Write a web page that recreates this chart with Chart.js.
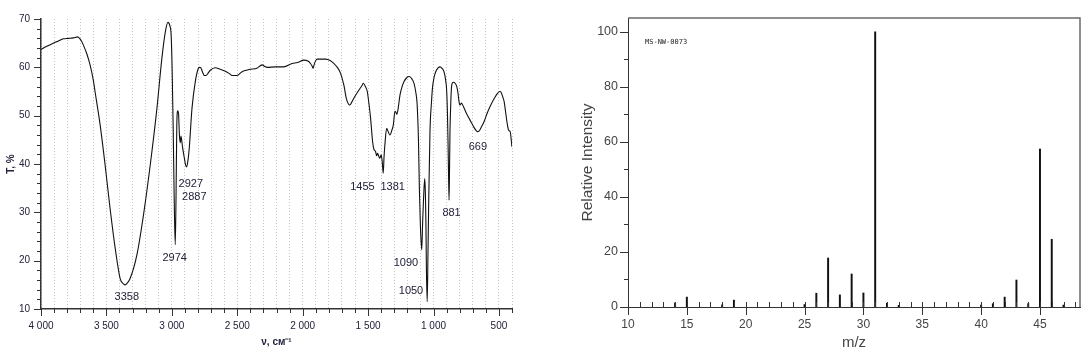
<!DOCTYPE html>
<html><head><meta charset="utf-8">
<script src="https://cdn.jsdelivr.net/npm/chart.js@4.4.0/dist/chart.umd.min.js"></script>
<style>
html,body{margin:0;padding:0;background:#fff;overflow:hidden}
#wrap{position:relative;width:1090px;height:355px;background:#fff}
#ir{position:absolute;left:0;top:0}
#ms{position:absolute;left:545px;top:0}
</style></head><body>
<div id="wrap"><canvas id="ir" width="545" height="355"></canvas><canvas id="ms" width="545" height="355"></canvas></div>
<script>
// ---------- IR spectrum data ----------
const irWavenumbers = [4000,3960,3906,3870,3829,3790,3753,3720,3705,3690,3676,3650,3625,3600,3587,3548,3510,3472,3433,3395,3370,3358,3340,3319,3267,3217,3165,3114,3076,3050,3030,3015,3005,2998,2990,2982,2974,2968,2962,2955,2949,2942,2936,2930,2924,2918,2903,2895,2887,2878,2867,2846,2821,2800,2790,2778,2765,2750,2739,2720,2706,2668,2630,2591,2560,2540,2502,2463,2430,2400,2350,2310,2285,2272,2208,2145,2080,2040,1991,1960,1940,1927,1920,1912,1900,1889,1825,1790,1762,1735,1711,1685,1665,1650,1639,1625,1609,1570,1545,1537,1520,1506,1495,1481,1465,1455,1443,1435,1428,1418,1410,1400,1392,1384,1378,1370,1358,1348,1333,1318,1307,1295,1289,1280,1270,1256,1240,1226,1200,1187,1170,1149,1135,1125,1115,1108,1100,1090,1083,1077,1067,1062,1058,1054,1048,1042,1037,1027,1015,1008,995,983,965,950,935,920,908,899,893,889,885,881,877,874,868,863,855,848,835,822,812,805,797,787,770,754,735,715,695,677,665,652,635,613,590,562,535,511,495,485,472,460,450,439,426,414,405,401];
const irTransmittance = [63.7,64.3,65.0,65.4,65.9,66.0,66.1,66.3,66.0,65.4,64.6,62.8,60.5,57.3,55.0,48.1,39.8,30.8,22.6,16.3,15.2,15.0,15.4,16.3,21.2,29.4,39.8,51.5,61.9,67.3,69.3,68.6,66.5,60.0,48.0,33.0,23.3,33.0,48.1,51.0,50.5,46.0,44.4,45.8,44.8,43.5,41.0,39.8,39.4,40.5,43.2,51.5,57.0,59.6,60.0,59.9,59.0,58.3,58.3,58.9,59.4,59.9,59.6,59.2,58.7,58.3,58.3,59.1,59.4,59.6,59.8,60.5,60.1,60.0,60.1,60.1,60.8,61.0,61.5,61.3,60.8,60.2,59.8,60.6,61.4,61.7,61.7,61.4,60.8,60.0,58.8,56.3,53.4,52.4,52.2,52.8,53.6,55.3,56.3,56.7,56.0,55.0,52.8,49.5,44.5,43.0,42.6,41.7,42.2,41.6,41.2,41.9,40.5,38.1,41.5,44.5,47.4,46.8,46.0,47.0,48.1,50.9,50.8,50.3,51.5,54.3,56.0,57.0,58.0,58.1,57.8,56.7,54.8,52.3,45.0,35.0,27.0,22.2,28.0,32.2,37.0,34.0,28.0,18.0,11.5,22.0,31.5,46.7,53.0,55.7,58.0,59.1,59.9,60.1,59.8,59.1,57.5,55.0,50.0,44.6,38.0,32.5,40.0,46.7,52.5,55.7,56.8,56.9,56.7,56.0,54.5,52.9,52.2,52.6,51.8,50.8,49.8,48.8,47.8,47.0,46.7,46.8,47.6,48.8,50.5,52.2,53.6,54.6,55.0,54.9,54.0,52.9,51.0,48.8,47.0,46.7,44.8,43.6];
const irXTickValues = [4000,3500,3000,2500,2000,1500,1000,500];
const irXTickLabels = ['4 000','3 500','3 000','2 500','2 000','1 500','1 000','500'];
const irYTickValues = [10,20,30,40,50,60,70];
const irYTickLabels = ['10','20','30','40','50','60','70'];
const irPeakLabels = ['3358','2974','2927','2887','1455','1381','1090','1050','881','669'];
const irPeakLabelWn = [3344,2978,2855,2828,1543,1312,1211,1172,862,661];
const irPeakLabelT = [12.5,20.6,35.9,33.2,35.2,35.2,19.5,13.8,29.9,43.6];

// ---------- Mass spectrum data ----------
const msMz = [14,15,18,19,25,26,27,28,29,30,31,32,33,40,41,42,43,44,45,46,47];
const msIntensity = [1.5,3.6,0.8,2.5,0.9,5.0,17.8,4.4,12.0,5.1,100,1.4,0.6,0.7,1.2,3.6,9.8,1.2,57.4,24.6,0.7];
const msXTickValues = [10,15,20,25,30,35,40,45];
const msXTickLabels = ['10','15','20','25','30','35','40','45'];
const msYTickValues = [0,20,40,60,80,100];
const msYTickLabels = ['0','20','40','60','80','100'];
const msTitle = 'MS-NW-0073';

const IRF = 'Liberation Sans, Arial, sans-serif';
const IRC = '#22223a';
const near = (arr, v) => arr.findIndex(a => Math.abs(a - v) < 1e-6);

const irDecor = {
  id: 'irDecor',
  afterDraw(chart) {
    const ctx = chart.ctx, xs = chart.scales.x, ys = chart.scales.y, a = chart.chartArea;
    ctx.save();
    ctx.strokeStyle = '#333'; ctx.lineWidth = 1;
    xs.ticks.forEach(t => {
      const px = Math.round(xs.getPixelForValue(t.value)) + 0.5;
      const len = (near(irXTickValues, t.value) >= 0) ? 7 : 4;
      ctx.beginPath(); ctx.moveTo(px, a.bottom); ctx.lineTo(px, a.bottom + len); ctx.stroke();
    });
    ys.ticks.forEach(t => {
      const py = Math.round(ys.getPixelForValue(t.value)) + 0.5;
      const len = (near(irYTickValues, t.value) >= 0) ? 7 : 4;
      ctx.beginPath(); ctx.moveTo(a.left, py); ctx.lineTo(a.left - len, py); ctx.stroke();
    });
    ctx.fillStyle = IRC; ctx.font = '11px ' + IRF;
    ctx.textAlign = 'center'; ctx.textBaseline = 'middle';
    irPeakLabels.forEach((s, i) => {
      ctx.fillText(s, xs.getPixelForValue(irPeakLabelWn[i]), ys.getPixelForValue(irPeakLabelT[i]));
    });
    ctx.restore();
  }
};

new Chart(document.getElementById('ir'), {
  type: 'line',
  data: { datasets: [{
    data: irWavenumbers.map((w, i) => ({x: w, y: irTransmittance[i]})),
    borderColor: '#111', borderWidth: 1.1, pointRadius: 0, fill: false,
    cubicInterpolationMode: 'monotone'
  }]},
  options: {
    responsive: false, animation: false, devicePixelRatio: 1,
    layout: { padding: { left: 0, right: 33, top: 19, bottom: 0 } },
    plugins: { legend: { display: false }, tooltip: { enabled: false } },
    scales: {
      x: {
        type: 'linear', reverse: true, min: 400, max: 4000,
        ticks: { stepSize: 100, autoSkip: false, includeBounds: false, maxRotation: 0, padding: 11,
          font: { family: IRF, size: 10 }, color: IRC,
          callback: v => { const k = near(irXTickValues, v); return k >= 0 ? irXTickLabels[k] : ''; } },
        grid: { display: true, drawTicks: false, color: '#c4c4c4', lineWidth: 1 },
        border: { display: true, color: '#333', width: 1.5, dash: [1, 2] },
        title: { display: true, text: 'ν, см⁻¹', color: IRC,
          font: { family: IRF, size: 10, weight: 'bold' }, padding: { top: 0, bottom: 7 } },
        afterFit(s) { s.height = 46; }
      },
      y: {
        type: 'linear', min: 10, max: 70,
        ticks: { stepSize: 2, autoSkip: false, includeBounds: false, padding: 11,
          font: { family: IRF, size: 10 }, color: IRC,
          callback: v => { const k = near(irYTickValues, v); return k >= 0 ? irYTickLabels[k] : ''; } },
        grid: { display: false, drawTicks: false },
        border: { display: true, color: '#333', width: 1.5 },
        title: { display: true, text: 'T, %', color: IRC,
          font: { family: IRF, size: 10, weight: 'bold' }, padding: { top: 5, bottom: 0 } },
        afterFit(s) { s.width = 41; }
      }
    }
  },
  plugins: [irDecor]
});

const MSF = 'Liberation Sans, Arial, sans-serif';
const MSC = '#444';
const msDecor = {
  id: 'msDecor',
  afterDraw(chart) {
    const ctx = chart.ctx, xs = chart.scales.x, ys = chart.scales.y, a = chart.chartArea;
    ctx.save();
    ctx.strokeStyle = '#6a6a6a'; ctx.lineWidth = 1.5;
    ctx.beginPath(); ctx.moveTo(a.left, a.top); ctx.lineTo(a.right, a.top); ctx.lineTo(a.right, a.bottom); ctx.stroke();
    ctx.strokeStyle = '#333'; ctx.lineWidth = 1;
    xs.ticks.forEach(t => {
      const px = Math.round(xs.getPixelForValue(t.value)) + 0.5;
      ctx.beginPath(); ctx.moveTo(px, a.bottom); ctx.lineTo(px, a.bottom - 5); ctx.stroke();
      if (near(msXTickValues, t.value) >= 0) { ctx.beginPath(); ctx.moveTo(px, a.bottom); ctx.lineTo(px, a.bottom + 8); ctx.stroke(); }
    });
    ys.ticks.forEach(t => {
      const py = Math.round(ys.getPixelForValue(t.value)) + 0.5;
      const len = (near(msYTickValues, t.value) >= 0) ? 8 : 4;
      ctx.beginPath(); ctx.moveTo(a.left, py); ctx.lineTo(a.left - len, py); ctx.stroke();
    });
    ctx.fillStyle = '#222'; ctx.font = '7px DejaVu Sans Mono, monospace';
    ctx.textAlign = 'left'; ctx.textBaseline = 'middle';
    ctx.fillText(msTitle, a.left + 17, a.top + 24);
    ctx.restore();
  }
};

new Chart(document.getElementById('ms'), {
  type: 'bar',
  data: { datasets: [{
    data: msMz.map((m, i) => ({x: m, y: msIntensity[i]})),
    backgroundColor: '#111', borderWidth: 0, barThickness: 1.3
  }]},
  options: {
    responsive: false, animation: false, devicePixelRatio: 1,
    layout: { padding: { left: 0, right: 10, top: 18, bottom: 0 } },
    plugins: { legend: { display: false }, tooltip: { enabled: false } },
    scales: {
      x: {
        type: 'linear', min: 10, max: 48.4, offset: false,
        ticks: { stepSize: 1, autoSkip: false, includeBounds: false, maxRotation: 0, padding: 10,
          font: { family: MSF, size: 12 }, color: MSC,
          callback: v => { const k = near(msXTickValues, v); return k >= 0 ? msXTickLabels[k] : ''; } },
        grid: { display: false, drawTicks: false, offset: false },
        border: { display: true, color: '#333', width: 1 },
        title: { display: true, text: 'm/z', color: MSC,
          font: { family: MSF, size: 15 }, padding: { top: 0, bottom: 3 } },
        afterFit(s) { s.height = 48; }
      },
      y: {
        type: 'linear', min: 0, max: 105,
        ticks: { stepSize: 10, autoSkip: false, includeBounds: false, padding: 10,
          font: { family: MSF, size: 12.5 }, color: MSC,
          callback: v => { const k = near(msYTickValues, v); return k >= 0 ? msYTickLabels[k] : ''; } },
        grid: { display: false, drawTicks: false },
        border: { display: true, color: '#333', width: 1 },
        title: { display: true, text: 'Relative Intensity', color: MSC,
          font: { family: MSF, size: 15.5 }, padding: { top: 33, bottom: 0 } },
        afterFit(s) { s.width = 83; }
      }
    }
  },
  plugins: [msDecor]
});
</script>
</body></html>
